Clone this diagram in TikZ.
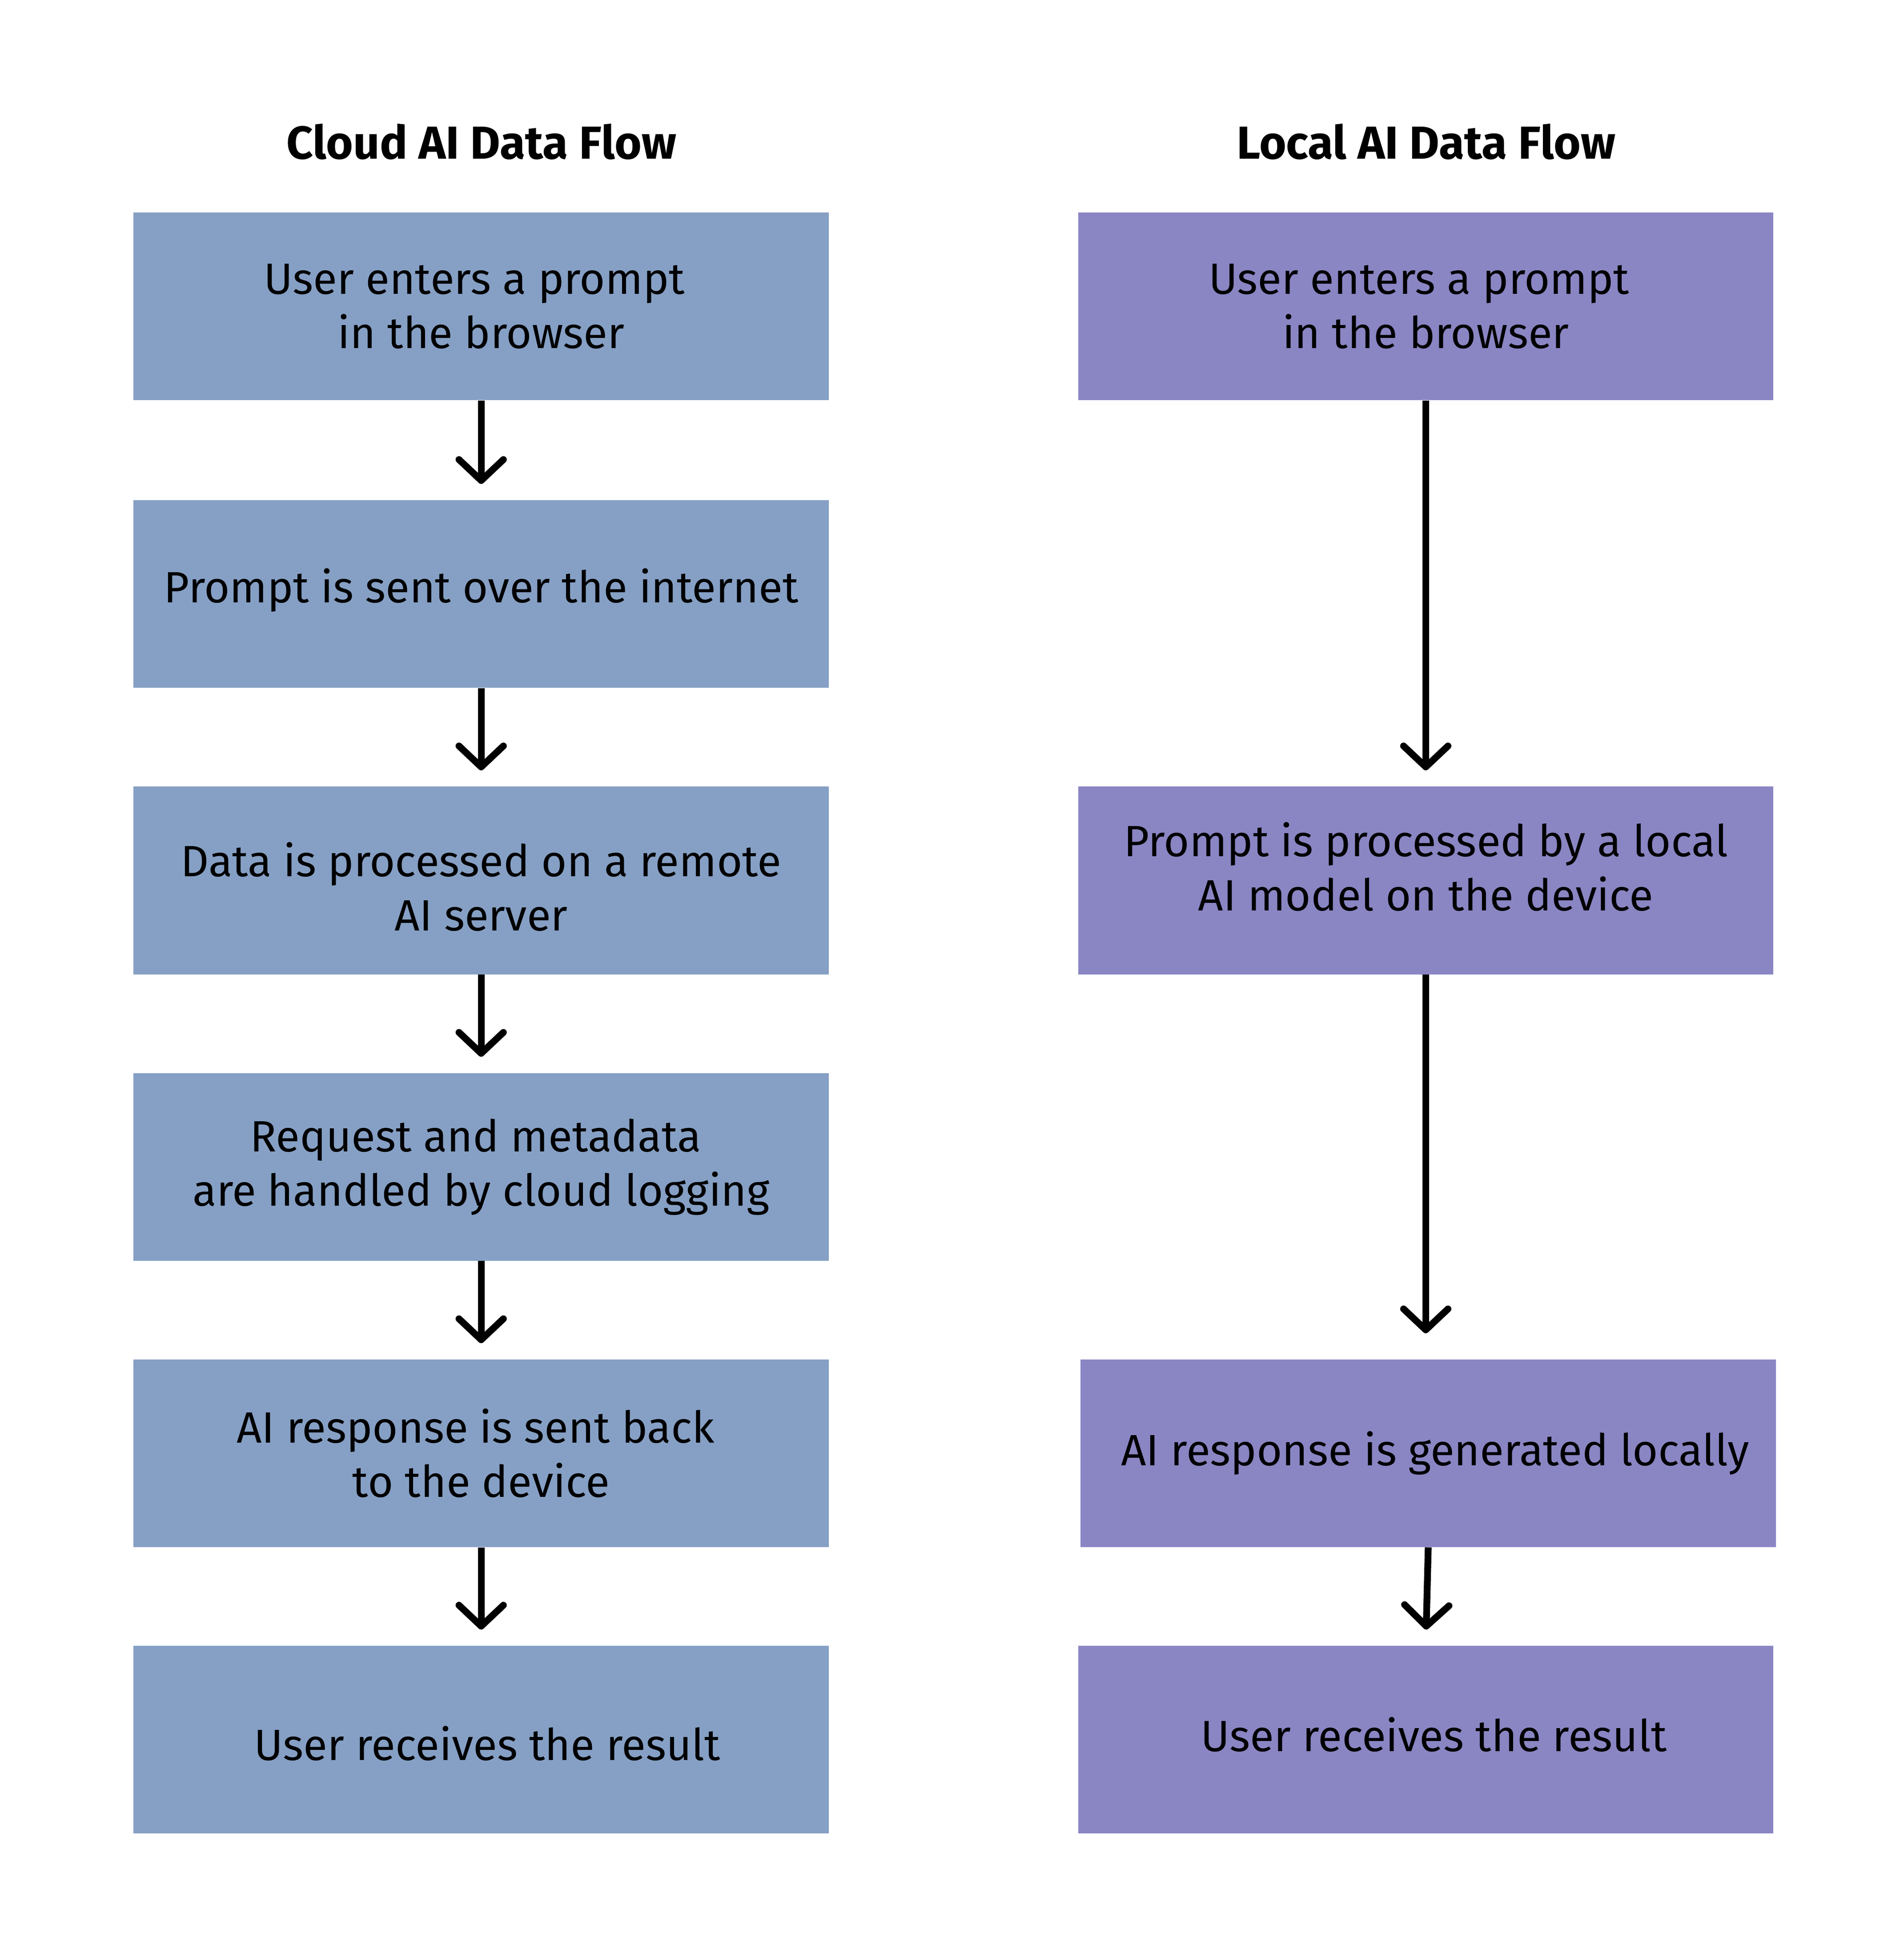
\documentclass[tikz,border=0pt]{standalone}
\usepackage{fontspec}
\setmainfont{Fira Sans}
\usetikzlibrary{arrows.meta}
\definecolor{cloudc}{RGB}{134,160,197}
\definecolor{localc}{RGB}{138,134,196}
\begin{document}
\begin{tikzpicture}[x=1pt,y=-1pt,
  box/.style={minimum width=563pt, minimum height=152pt, inner sep=0pt, anchor=north west},
  cloudbox/.style={box, fill=cloudc},
  localbox/.style={box, fill=localc},
  txt/.style={align=center, inner sep=0pt, font=\fontsize{35.5}{44}\selectfont},
  title/.style={font=\fontsize{37.5}{44}\selectfont\bfseries},
  flow/.style={line width=5.5pt, -{Straight Barb[length=17pt, width=36pt, line cap=round, line join=round]}, shorten >=13pt}]
\useasboundingbox (0,0) rectangle (1542,1565.8);
\node[title] (tc) at (390,115) {Cloud AI Data Flow};
\node[title] (tl) at (1155,115) {Local AI Data Flow};
% boxes
\node[cloudbox] (c1) at (108,172) {};
\node[cloudbox] (c2) at (108,405) {};
\node[cloudbox] (c3) at (108,637) {};
\node[cloudbox] (c4) at (108,869) {};
\node[cloudbox] (c5) at (108,1101) {};
\node[cloudbox] (c6) at (108,1333) {};
\node[localbox] (l1) at (873,172) {};
\node[localbox] (l2) at (873,637) {};
\node[localbox] (l3) at (875,1101) {};
\node[localbox] (l4) at (873,1333) {};
% texts
\node[txt] (c1t) at (c1.center) {User enters a prompt\hspace*{11pt}\\in the browser};
\node[txt, yshift=3pt] (c2t) at (c2.center) {Prompt is sent over the internet};
\node[txt, yshift=-5pt] (c3t) at (c3.center) {Data is processed on a remote\\AI server};
\node[txt] (c4t) at (c4.center) {Request and metadata\hspace*{9pt}\\are handled by cloud logging};
\node[txt] (c5t) at (c5.center) {AI response is sent back\hspace*{9pt}\\to the device};
\node[txt, yshift=-3pt, xshift=5pt] (c6t) at (c6.center) {User receives the result};
\node[txt] (l1t) at (l1.center) {User enters a prompt\hspace*{11pt}\\in the browser};
\node[txt, yshift=11pt] (l2t) at (l2.center) {Prompt is processed by a local\\AI model on the device};
\node[txt, xshift=5.5pt] (l3t) at (l3.center) {AI response is generated locally};
\node[txt, yshift=4pt, xshift=6.5pt] (l4t) at (l4.center) {User receives the result};
% connectors
\draw[flow] (c1.south) -- (c2.north);
\draw[flow] (c2.south) -- (c3.north);
\draw[flow] (c3.south) -- (c4.north);
\draw[flow] (c4.south) -- (c5.north);
\draw[flow] (c5.south) -- (c6.north);
\draw[flow] (l1.south) -- (l2.north);
\draw[flow, shorten >=21pt] (l2.south) -- (l2.south |- l3.north);
\draw[flow] (l3.south) -- (l4.north);
\end{tikzpicture}
\end{document}
